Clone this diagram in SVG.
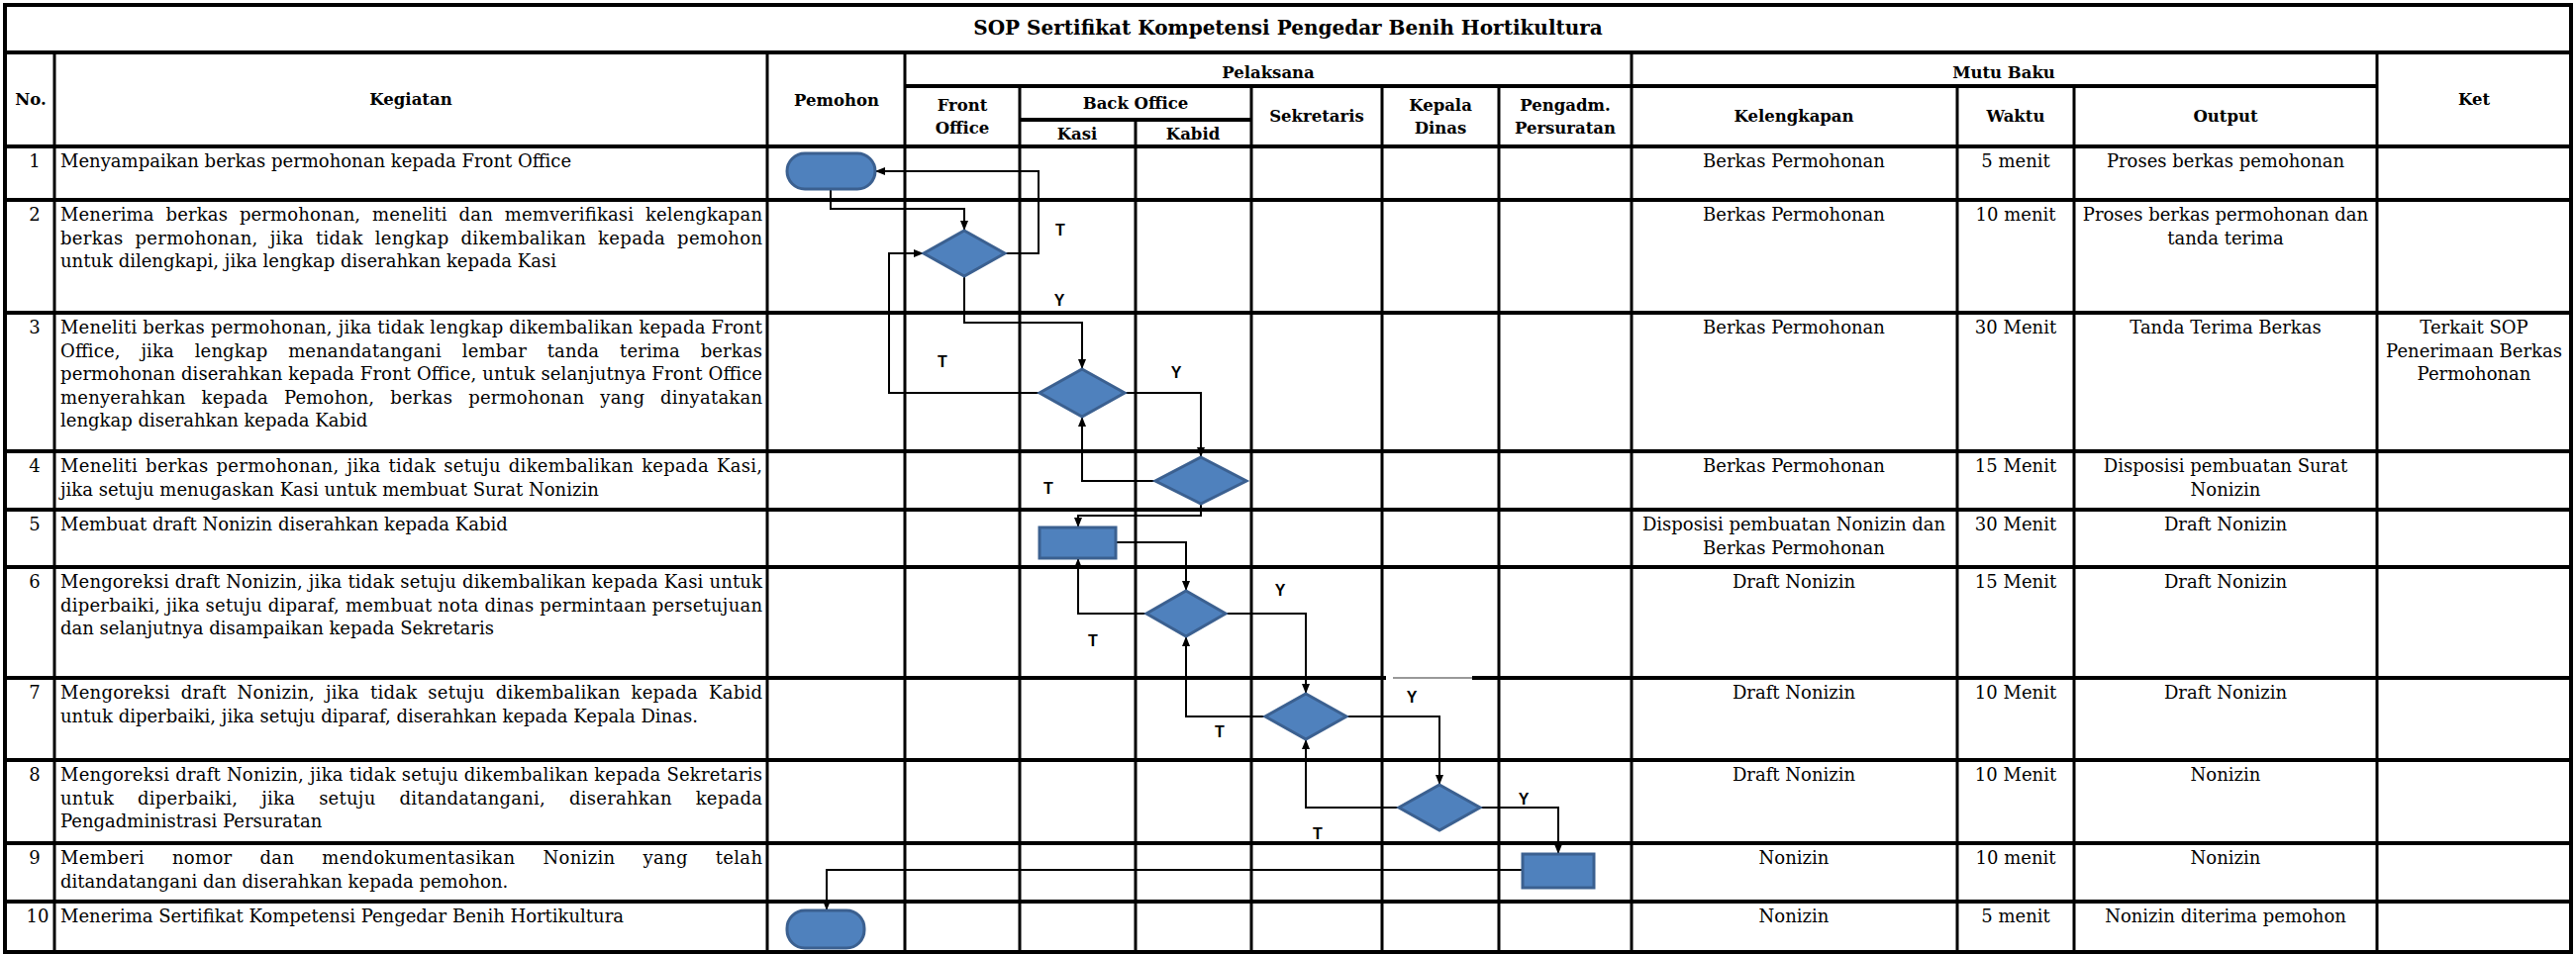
<svg xmlns="http://www.w3.org/2000/svg" width="2602" height="964" viewBox="0 0 2602 964">
<style>
.b{font-family:"DejaVu Serif","Liberation Serif",serif;font-size:18px;fill:#000}
.c{text-anchor:middle}
.h{font-family:"DejaVu Serif","Liberation Serif",serif;font-size:16.5px;font-weight:bold;text-anchor:middle;fill:#000}
.t{font-family:"DejaVu Serif","Liberation Serif",serif;font-size:20px;font-weight:bold;text-anchor:middle;fill:#000}
.lbl{font-family:"Liberation Sans",Arial,sans-serif;font-size:16px;font-weight:bold;text-anchor:middle;fill:#000}
.gh{stroke:#000;stroke-width:4}
.gv{stroke:#000;stroke-width:3}
.shape{fill:#4F81BD;stroke:#3B6090;stroke-width:3}
.con{fill:none;stroke:#000;stroke-width:2}
</style>
<defs>
<marker id="arr" viewBox="0 0 10 8" refX="10" refY="4" markerWidth="10" markerHeight="8" markerUnits="userSpaceOnUse" orient="auto">
<path d="M0,0 L10,4 L0,8 z" fill="#000"/>
</marker>
</defs>
<rect x="0" y="0" width="2602" height="964" fill="#fff"/>

<g id="grid">
<!-- horizontal -->
<line class="gh" x1="3" y1="5" x2="2599" y2="5"/>
<line class="gh" x1="3" y1="53" x2="2599" y2="53"/>
<line class="gh" x1="914" y1="87" x2="2401" y2="87"/>
<line class="gh" x1="1030" y1="121" x2="1264" y2="121"/>
<line class="gh" x1="3" y1="148" x2="2599" y2="148"/>
<line class="gh" x1="3" y1="202" x2="2599" y2="202"/>
<line class="gh" x1="3" y1="316" x2="2599" y2="316"/>
<line class="gh" x1="3" y1="456" x2="2599" y2="456"/>
<line class="gh" x1="3" y1="515" x2="2599" y2="515"/>
<line class="gh" x1="3" y1="573" x2="2599" y2="573"/>
<line class="gh" x1="3" y1="685" x2="1400" y2="685"/>
<line x1="1407" y1="685" x2="1487" y2="685" stroke="#777" stroke-width="1.5"/>
<line class="gh" x1="1487" y1="685" x2="2599" y2="685"/>
<line class="gh" x1="3" y1="768" x2="2599" y2="768"/>
<line class="gh" x1="3" y1="852" x2="2599" y2="852"/>
<line class="gh" x1="3" y1="911" x2="2599" y2="911"/>
<line class="gh" x1="3" y1="962" x2="2599" y2="962"/>
<!-- vertical -->
<line class="gh" x1="5" y1="3" x2="5" y2="964"/>
<line class="gh" x1="2597" y1="3" x2="2597" y2="964"/>
<line class="gv" x1="55" y1="53" x2="55" y2="962"/>
<line class="gv" x1="775" y1="53" x2="775" y2="962"/>
<line class="gv" x1="914" y1="53" x2="914" y2="962"/>
<line class="gv" x1="1030" y1="87" x2="1030" y2="962"/>
<line class="gv" x1="1147" y1="121" x2="1147" y2="962"/>
<line class="gv" x1="1264" y1="87" x2="1264" y2="962"/>
<line class="gv" x1="1396" y1="87" x2="1396" y2="962"/>
<line class="gv" x1="1514" y1="87" x2="1514" y2="962"/>
<line class="gv" x1="1648" y1="53" x2="1648" y2="962"/>
<line class="gv" x1="1977" y1="87" x2="1977" y2="962"/>
<line class="gv" x1="2095" y1="87" x2="2095" y2="962"/>
<line class="gv" x1="2401" y1="53" x2="2401" y2="962"/>
</g>

<g id="title">
<text class="t" x="1301" y="35">SOP Sertifikat Kompetensi Pengedar Benih Hortikultura</text>
</g>

<g id="header">
<text class="h" x="31" y="106">No.</text>
<text class="h" x="415" y="106">Kegiatan</text>
<text class="h" x="845" y="107">Pemohon</text>
<text class="h" x="1281" y="79">Pelaksana</text>
<text class="h" x="972" y="112">Front</text>
<text class="h" x="972" y="135">Office</text>
<text class="h" x="1147" y="110">Back Office</text>
<text class="h" x="1088" y="141">Kasi</text>
<text class="h" x="1205" y="141">Kabid</text>
<text class="h" x="1330" y="123">Sekretaris</text>
<text class="h" x="1455" y="112">Kepala</text>
<text class="h" x="1455" y="135">Dinas</text>
<text class="h" x="1581" y="112">Pengadm.</text>
<text class="h" x="1581" y="135">Persuratan</text>
<text class="h" x="2024" y="79">Mutu Baku</text>
<text class="h" x="1812" y="123">Kelengkapan</text>
<text class="h" x="2036" y="123">Waktu</text>
<text class="h" x="2248" y="123">Output</text>
<text class="h" x="2499" y="106">Ket</text>
</g>

<g id="numbers" class="b c">
<text x="35" y="169">1</text>
<text x="35" y="223">2</text>
<text x="35" y="337">3</text>
<text x="35" y="477">4</text>
<text x="35" y="536">5</text>
<text x="35" y="594">6</text>
<text x="35" y="706">7</text>
<text x="35" y="789">8</text>
<text x="35" y="873">9</text>
<text x="38" y="932">10</text>
</g>

<g id="kegiatan" class="b">
<text x="61" y="169">Menyampaikan berkas permohonan kepada Front Office</text>
<text x="61" y="223" word-spacing="6" textLength="709" lengthAdjust="spacing">Menerima berkas permohonan, meneliti dan memverifikasi kelengkapan</text>
<text x="61" y="246.5" word-spacing="6" textLength="709" lengthAdjust="spacing">berkas permohonan, jika tidak lengkap dikembalikan kepada pemohon</text>
<text x="61" y="270">untuk dilengkapi, jika lengkap  diserahkan kepada Kasi</text>
<text x="61" y="337" textLength="709" lengthAdjust="spacing">Meneliti berkas permohonan, jika tidak lengkap dikembalikan kepada Front</text>
<text x="61" y="360.5" word-spacing="15" textLength="709" lengthAdjust="spacing">Office, jika lengkap menandatangani lembar tanda terima berkas</text>
<text x="61" y="384" textLength="709" lengthAdjust="spacing">permohonan diserahkan kepada Front Office, untuk selanjutnya Front Office</text>
<text x="61" y="407.5" word-spacing="10" textLength="709" lengthAdjust="spacing">menyerahkan kepada Pemohon, berkas permohonan yang dinyatakan</text>
<text x="61" y="431">lengkap diserahkan kepada Kabid</text>
<text x="61" y="477" word-spacing="2" textLength="709" lengthAdjust="spacing">Meneliti berkas permohonan, jika tidak setuju dikembalikan kepada Kasi,</text>
<text x="61" y="500.5">jika setuju menugaskan Kasi untuk membuat Surat Nonizin</text>
<text x="61" y="536">Membuat draft Nonizin diserahkan kepada Kabid</text>
<text x="61" y="594" textLength="709" lengthAdjust="spacing">Mengoreksi draft Nonizin, jika tidak setuju dikembalikan kepada Kasi untuk</text>
<text x="61" y="617.5" textLength="709" lengthAdjust="spacing">diperbaiki, jika setuju diparaf, membuat nota dinas permintaan persetujuan</text>
<text x="61" y="641">dan selanjutnya disampaikan kepada Sekretaris</text>
<text x="61" y="706" word-spacing="5" textLength="709" lengthAdjust="spacing">Mengoreksi draft Nonizin, jika tidak setuju dikembalikan kepada Kabid</text>
<text x="61" y="729.5">untuk diperbaiki, jika setuju diparaf, diserahkan kepada Kepala Dinas.</text>
<text x="61" y="789" textLength="709" lengthAdjust="spacing">Mengoreksi draft Nonizin, jika tidak setuju dikembalikan kepada Sekretaris</text>
<text x="61" y="812.5" word-spacing="18" textLength="709" lengthAdjust="spacing">untuk diperbaiki, jika setuju ditandatangani, diserahkan kepada</text>
<text x="61" y="836">Pengadministrasi Persuratan</text>
<text x="61" y="873" word-spacing="22" textLength="709" lengthAdjust="spacing">Memberi nomor dan mendokumentasikan Nonizin yang telah</text>
<text x="61" y="896.5">ditandatangani dan diserahkan kepada pemohon.</text>
<text x="61" y="932">Menerima Sertifikat Kompetensi Pengedar Benih Hortikultura</text>
</g>

<g id="kelengkapan" class="b c">
<text x="1812" y="169">Berkas Permohonan</text>
<text x="1812" y="223">Berkas Permohonan</text>
<text x="1812" y="337">Berkas Permohonan</text>
<text x="1812" y="477">Berkas Permohonan</text>
<text x="1812" y="536">Disposisi pembuatan Nonizin dan</text>
<text x="1812" y="559.5">Berkas Permohonan</text>
<text x="1812" y="594">Draft Nonizin</text>
<text x="1812" y="706">Draft Nonizin</text>
<text x="1812" y="789">Draft Nonizin</text>
<text x="1812" y="873">Nonizin</text>
<text x="1812" y="932">Nonizin</text>
</g>

<g id="waktu" class="b c">
<text x="2036" y="169">5 menit</text>
<text x="2036" y="223">10 menit</text>
<text x="2036" y="337">30 Menit</text>
<text x="2036" y="477">15 Menit</text>
<text x="2036" y="536">30 Menit</text>
<text x="2036" y="594">15 Menit</text>
<text x="2036" y="706">10 Menit</text>
<text x="2036" y="789">10 Menit</text>
<text x="2036" y="873">10 menit</text>
<text x="2036" y="932">5 menit</text>
</g>

<g id="output" class="b c">
<text x="2248" y="169">Proses berkas pemohonan</text>
<text x="2248" y="223">Proses berkas permohonan dan</text>
<text x="2248" y="246.5">tanda terima</text>
<text x="2248" y="337">Tanda Terima Berkas</text>
<text x="2248" y="477">Disposisi pembuatan Surat</text>
<text x="2248" y="500.5">Nonizin</text>
<text x="2248" y="536">Draft Nonizin</text>
<text x="2248" y="594">Draft Nonizin</text>
<text x="2248" y="706">Draft Nonizin</text>
<text x="2248" y="789">Nonizin</text>
<text x="2248" y="873">Nonizin</text>
<text x="2248" y="932">Nonizin diterima pemohon</text>
</g>

<g id="ket" class="b c">
<text x="2499" y="337">Terkait SOP</text>
<text x="2499" y="360.5">Penerimaan Berkas</text>
<text x="2499" y="384">Permohonan</text>
</g>

<g id="connectors">
<polyline class="con" points="839,191 839,211 974,211 974,233" marker-end="url(#arr)"/>
<polyline class="con" points="1015,256 1049,256 1049,173 884,173" marker-end="url(#arr)"/>
<polyline class="con" points="974,279 974,326 1093,326 1093,373" marker-end="url(#arr)"/>
<polyline class="con" points="1050,397 898,397 898,256 933,256" marker-end="url(#arr)"/>
<polyline class="con" points="1136,397 1213,397 1213,462" marker-end="url(#arr)"/>
<polyline class="con" points="1167,486 1093,486 1093,421" marker-end="url(#arr)"/>
<polyline class="con" points="1213,509 1213,521 1089,521 1089,533" marker-end="url(#arr)"/>
<polyline class="con" points="1127,548 1198,548 1198,597" marker-end="url(#arr)"/>
<polyline class="con" points="1158,620 1089,620 1089,564" marker-end="url(#arr)"/>
<polyline class="con" points="1238,620 1319,620 1319,701" marker-end="url(#arr)"/>
<polyline class="con" points="1278,724 1198,724 1198,643" marker-end="url(#arr)"/>
<polyline class="con" points="1360,724 1454,724 1454,793" marker-end="url(#arr)"/>
<polyline class="con" points="1413,816 1319,816 1319,747" marker-end="url(#arr)"/>
<polyline class="con" points="1495,816 1574,816 1574,863" marker-end="url(#arr)"/>
<polyline class="con" points="1538,879 835,879 835,920" marker-end="url(#arr)"/>
</g>

<g id="node-start"><rect class="shape" x="795" y="155" width="89" height="36" rx="18" ry="18"/></g>
<g id="node-d1"><polygon class="shape" points="974,233 1015,256 974,279 933,256"/></g>
<g id="node-d2"><polygon class="shape" points="1093,373 1136,397 1093,421 1050,397"/></g>
<g id="node-d3"><polygon class="shape" points="1213,462 1259,486 1213,509 1167,486"/></g>
<g id="node-r1"><rect class="shape" x="1050" y="533" width="77" height="31"/></g>
<g id="node-d4"><polygon class="shape" points="1198,597 1238,620 1198,643 1158,620"/></g>
<g id="node-d5"><polygon class="shape" points="1319,701 1360,724 1319,747 1278,724"/></g>
<g id="node-d6"><polygon class="shape" points="1454,793 1495,816 1454,839 1413,816"/></g>
<g id="node-r2"><rect class="shape" x="1538" y="863" width="72" height="34"/></g>
<g id="node-end"><rect class="shape" x="795" y="920" width="78" height="38" rx="18" ry="18"/></g>

<g id="branch-labels" class="lbl">
<text x="1071" y="238">T</text>
<text x="1070" y="309">Y</text>
<text x="952" y="371">T</text>
<text x="1188" y="382">Y</text>
<text x="1059" y="499">T</text>
<text x="1104" y="653">T</text>
<text x="1293" y="602">Y</text>
<text x="1232" y="745">T</text>
<text x="1426" y="710">Y</text>
<text x="1331" y="848">T</text>
<text x="1539" y="813">Y</text>
</g>
</svg>
